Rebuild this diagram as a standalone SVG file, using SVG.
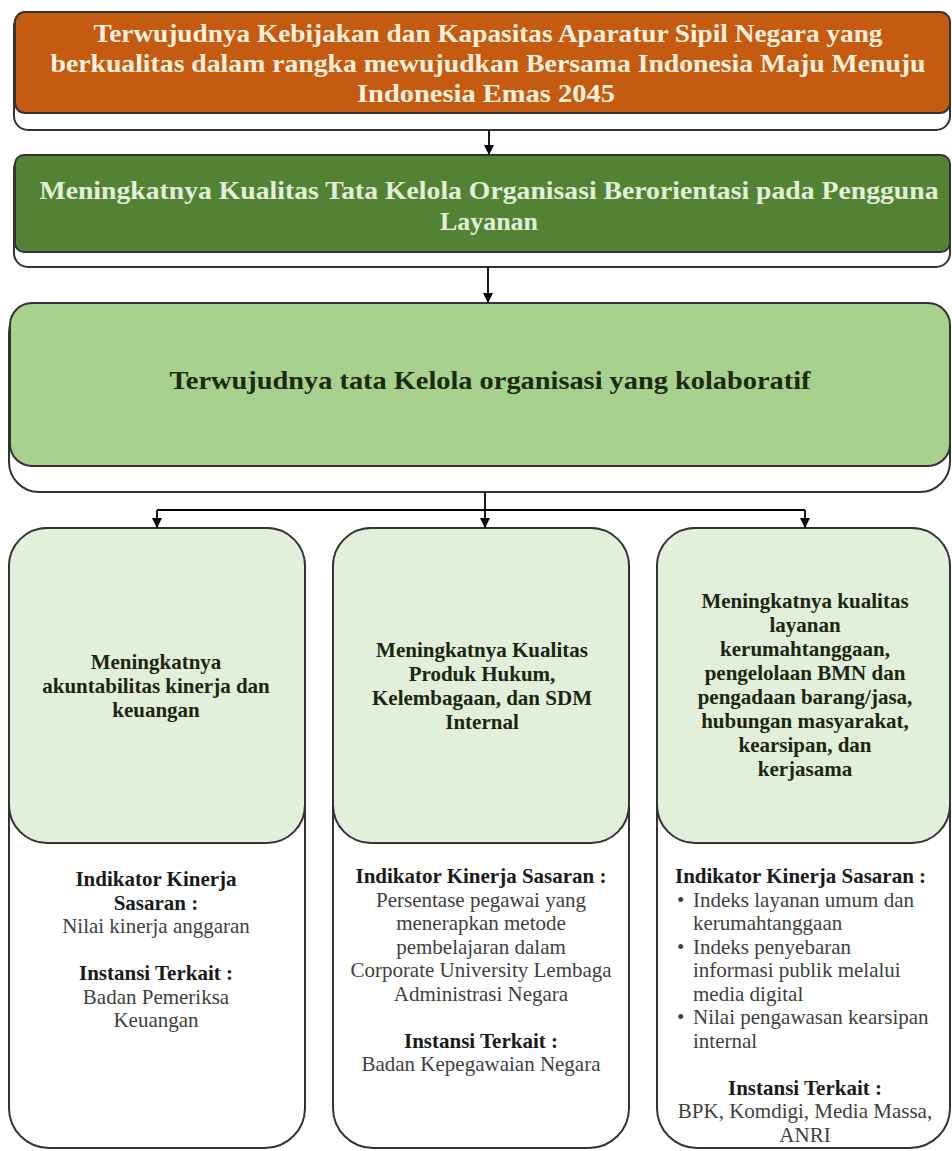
<svg xmlns="http://www.w3.org/2000/svg" width="952" height="1151" viewBox="0 0 952 1151">
  <style>
    .box { stroke: #333333; stroke-width: 2; }
    .outer { fill: #ffffff; }
    .hdr { font-family: "Liberation Serif", "Times New Roman", serif; font-weight: bold; font-size: 25px; text-anchor: middle; }
    .lbl { font-family: "Liberation Serif", "Times New Roman", serif; font-weight: bold; font-size: 21px; text-anchor: middle; fill: #1b2612; }
    .b { font-family: "Liberation Serif", "Times New Roman", serif; font-weight: bold; font-size: 21px; fill: #1a1a1a; }
    .r { font-family: "Liberation Serif", "Times New Roman", serif; font-size: 21px; fill: #404040; }
    .c { text-anchor: middle; }
    .conn { stroke: #000000; stroke-width: 1.8; fill: none; }
  </style>
  <defs>
    <marker id="arr" markerWidth="10" markerHeight="11" refX="10" refY="5" orient="auto" markerUnits="userSpaceOnUse">
      <path d="M0,0 L10,5 L0,10 z" fill="#000000"/>
    </marker>
  </defs>
  <rect width="952" height="1151" fill="#ffffff"/>

  <g id="node-vision">
    <rect class="box outer" x="14" y="12" width="936" height="118" rx="14"/>
    <rect class="box" x="15" y="12" width="935" height="101" rx="10" fill="#C55A11"/>
    <text class="hdr" fill="#FFF1DE" x="488" y="42" textLength="789" lengthAdjust="spacingAndGlyphs">Terwujudnya Kebijakan dan Kapasitas Aparatur Sipil Negara yang</text>
    <text class="hdr" fill="#FFF1DE" x="488" y="72" textLength="875" lengthAdjust="spacingAndGlyphs">berkualitas dalam rangka mewujudkan Bersama Indonesia Maju Menuju</text>
    <text class="hdr" fill="#FFF1DE" x="486" y="102" textLength="258" lengthAdjust="spacingAndGlyphs">Indonesia Emas 2045</text>
  </g>

  <g id="node-goal">
    <rect class="box outer" x="14" y="155" width="936" height="112" rx="14"/>
    <rect class="box" x="15" y="155" width="935" height="97" rx="9" fill="#548235"/>
    <text class="hdr" fill="#E2F0D9" x="489" y="199" textLength="899" lengthAdjust="spacingAndGlyphs">Meningkatnya Kualitas Tata Kelola Organisasi Berorientasi pada Pengguna</text>
    <text class="hdr" fill="#E2F0D9" x="489" y="230" textLength="98" lengthAdjust="spacingAndGlyphs">Layanan</text>
  </g>

  <g id="node-collab">
    <rect class="box outer" x="9" y="303" width="941" height="189" rx="30"/>
    <rect class="box" x="10" y="303" width="940" height="163" rx="22" fill="#A9D18E"/>
    <text class="hdr" fill="#1B2A10" font-size="24" x="490" y="389" textLength="641" lengthAdjust="spacingAndGlyphs">Terwujudnya tata Kelola organisasi yang kolaboratif</text>
  </g>

  <g id="node-left">
    <rect class="box outer" x="9" y="528" width="296" height="620" rx="40"/>
    <rect class="box" x="9" y="528" width="296" height="315" rx="38" fill="#E2EFDA"/>
    <text class="lbl" x="156" y="669">Meningkatnya</text>
    <text class="lbl" x="156" y="693">akuntabilitas kinerja dan</text>
    <text class="lbl" x="156" y="717">keuangan</text>
    <text class="b c" x="156" y="886">Indikator Kinerja</text>
    <text class="b c" x="156" y="909.5">Sasaran :</text>
    <text class="r c" x="156" y="933">Nilai kinerja anggaran</text>
    <text class="b c" x="156" y="980">Instansi Terkait :</text>
    <text class="r c" x="156" y="1003.5">Badan Pemeriksa</text>
    <text class="r c" x="156" y="1027">Keuangan</text>
  </g>

  <g id="node-middle">
    <rect class="box outer" x="333" y="528" width="296" height="620" rx="40"/>
    <rect class="box" x="333" y="528" width="296" height="315" rx="38" fill="#E2EFDA"/>
    <text class="lbl" x="482" y="657">Meningkatnya Kualitas</text>
    <text class="lbl" x="482" y="681">Produk Hukum,</text>
    <text class="lbl" x="482" y="705">Kelembagaan, dan SDM</text>
    <text class="lbl" x="482" y="729">Internal</text>
    <text class="b c" x="481" y="883">Indikator Kinerja Sasaran :</text>
    <text class="r c" x="481" y="906.5">Persentase pegawai yang</text>
    <text class="r c" x="481" y="930">menerapkan metode</text>
    <text class="r c" x="481" y="953.5">pembelajaran dalam</text>
    <text class="r c" x="481" y="977">Corporate University Lembaga</text>
    <text class="r c" x="481" y="1000.5">Administrasi Negara</text>
    <text class="b c" x="481" y="1047.5">Instansi Terkait :</text>
    <text class="r c" x="481" y="1071">Badan Kepegawaian Negara</text>
  </g>

  <g id="node-right">
    <rect class="box outer" x="657" y="528" width="293" height="620" rx="40"/>
    <rect class="box" x="657" y="528" width="293" height="315" rx="38" fill="#E2EFDA"/>
    <text class="lbl" x="805" y="608">Meningkatnya kualitas</text>
    <text class="lbl" x="805" y="632">layanan</text>
    <text class="lbl" x="805" y="656">kerumahtanggaan,</text>
    <text class="lbl" x="805" y="680">pengelolaan BMN dan</text>
    <text class="lbl" x="805" y="704">pengadaan barang/jasa,</text>
    <text class="lbl" x="805" y="728">hubungan masyarakat,</text>
    <text class="lbl" x="805" y="752">kearsipan, dan</text>
    <text class="lbl" x="805" y="776">kerjasama</text>
    <text class="b" x="675" y="883">Indikator Kinerja Sasaran :</text>
    <text class="r" x="677" y="906.5">•</text>
    <text class="r" x="693" y="906.5">Indeks layanan umum dan</text>
    <text class="r" x="693" y="930">kerumahtanggaan</text>
    <text class="r" x="677" y="953.5">•</text>
    <text class="r" x="693" y="953.5">Indeks penyebaran</text>
    <text class="r" x="693" y="977">informasi publik melalui</text>
    <text class="r" x="693" y="1000.5">media digital</text>
    <text class="r" x="677" y="1024">•</text>
    <text class="r" x="693" y="1024">Nilai pengawasan kearsipan</text>
    <text class="r" x="693" y="1047.5">internal</text>
    <text class="b c" x="805" y="1094.5">Instansi Terkait :</text>
    <text class="r c" x="805" y="1118">BPK, Komdigi, Media Massa,</text>
    <text class="r c" x="805" y="1141.5">ANRI</text>
  </g>

  <g id="connectors">
    <path class="conn" d="M489,130 V155" marker-end="url(#arr)"/>
    <path class="conn" d="M488,267 V303" marker-end="url(#arr)"/>
    <path class="conn" d="M485,492 V528" marker-end="url(#arr)"/>
    <path class="conn" d="M157,510 H805"/>
    <path class="conn" d="M157,510 V528" marker-end="url(#arr)"/>
    <path class="conn" d="M805,510 V528" marker-end="url(#arr)"/>
  </g>
</svg>
